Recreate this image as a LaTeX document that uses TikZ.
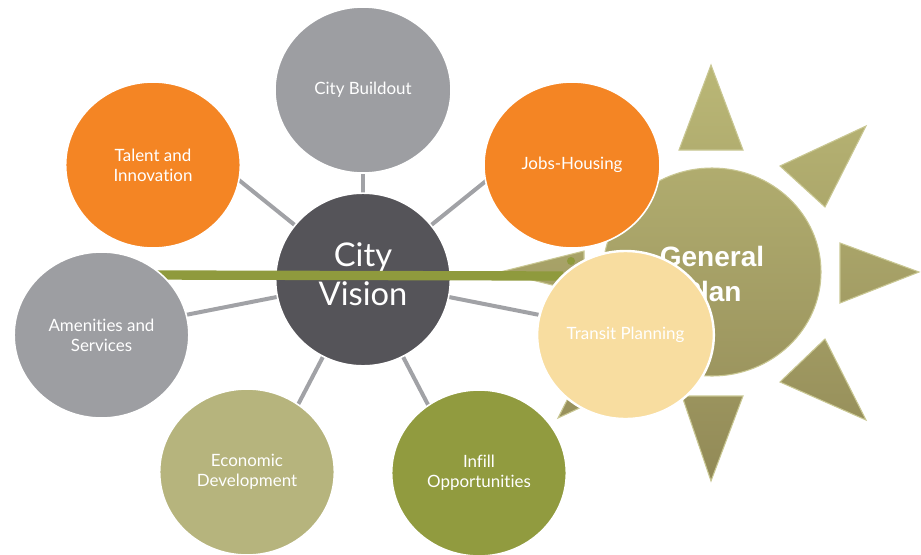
\documentclass[tikz,border=0pt]{standalone}
\usepackage{fontspec}
\setmainfont{Lato}[Ligatures={NoCommon,NoRequired,NoContextual}]
\newfontfamily\gpfont{Liberation Sans}
\usetikzlibrary{shapes.geometric}
\definecolor{corange}{HTML}{F48524}
\definecolor{cgray}{HTML}{9D9EA2}
\definecolor{cdark}{HTML}{555459}
\definecolor{cecon}{HTML}{B6B47D}
\definecolor{cinfill}{HTML}{919B3F}
\definecolor{ctransit}{HTML}{F8DDA0}
\definecolor{cline}{HTML}{8F9A3D}
\definecolor{clink}{HTML}{A1A2A6}
\definecolor{suntop}{HTML}{BAB776}
\definecolor{sunbot}{HTML}{928A57}
\definecolor{sunedge}{HTML}{C9C793}
\begin{document}
\begin{tikzpicture}[x=0.75pt,y=-0.75pt,
  bub/.style={ellipse, inner sep=0pt, draw=white, line width=1.2pt, text=white,
    align=center, font=\fontsize{12.7}{15}\selectfont,
    minimum width=131pt, minimum height=124.5pt},
  link/.style={draw=clink, line width=3pt},
  glink/.style={draw=cline, line width=7pt},
]
\useasboundingbox (0,0) rectangle (921,554);
% sun
\shade[top color=suntop, bottom color=sunbot, draw=sunedge, line width=0.8pt]
  (712,272) ellipse [x radius=109, y radius=104]
  (711,65) -- (743,150) -- (679,150) -- cycle
  (866,126) -- (780,166) -- (825,207) -- cycle
  (919,272) -- (840,243) -- (840,303) -- cycle
  (825,339) -- (780,382) -- (866,420) -- cycle
  (682,396) -- (743,396) -- (711,481) -- cycle
  (558,418) -- (644,378) -- (599,337) -- cycle
  (500,272) -- (584,251) -- (584,293) -- cycle
  (558,126) -- (644,166) -- (599,207) -- cycle;
\node[font=\gpfont\bfseries\fontsize{21}{26}\selectfont, text=white, align=center] (gp) at (712,274) {General\\Plan};
% links from center
\coordinate (cvc) at (363,280);
\coordinate (e-bo) at (363,150);
\coordinate (e-ti) at (219,164);
\coordinate (e-jh) at (507,164);
\coordinate (e-as) at (160,320);
\coordinate (e-tp) at (565,320);
\coordinate (e-ed) at (290,420);
\coordinate (e-io) at (436,420);
\foreach \e in {bo,ti,jh,as,tp,ed,io} \draw[link] (cvc) -- (e-\e);
% bubbles
\node[bub, fill=cgray, minimum width=132pt] (bo) at (363,90) {City Buildout};
\node[bub, fill=corange] (ti) at (153,165) {Talent and\\Innovation};
\node[bub, fill=corange, minimum width=132pt] (jh) at (572,165) {Jobs-Housing};
\node[bub, fill=cecon] (ed) at (247,472) {Economic\\Development};
\node[bub, fill=cinfill] (io) at (479,473) {Infill\\Opportunities};
\node[bub, fill=cdark, minimum height=129.5pt] (cv) at (363,279.5) {};
\node[text=white, align=center, inner sep=0pt, font=\fontsize{24.5}{29}\selectfont] (cvt) at (363,274.5) {City\\Vision};
% green line
\coordinate (gl-a) at (150,275);
\coordinate (gl-b) at (563,276);
\draw[glink] (gl-a) -- (gl-b);
\fill[cline] (571,261) circle [radius=4];
\node[bub, fill=cgray] (as) at (101.5,335) {Amenities and\\Services};
\node[bub, fill=ctransit, minimum width=132.5pt, minimum height=126pt, line width=1.8pt] (tp) at (625.5,335) {\raisebox{-1.5pt}{Transit Planning}};
\end{tikzpicture}
\end{document}
